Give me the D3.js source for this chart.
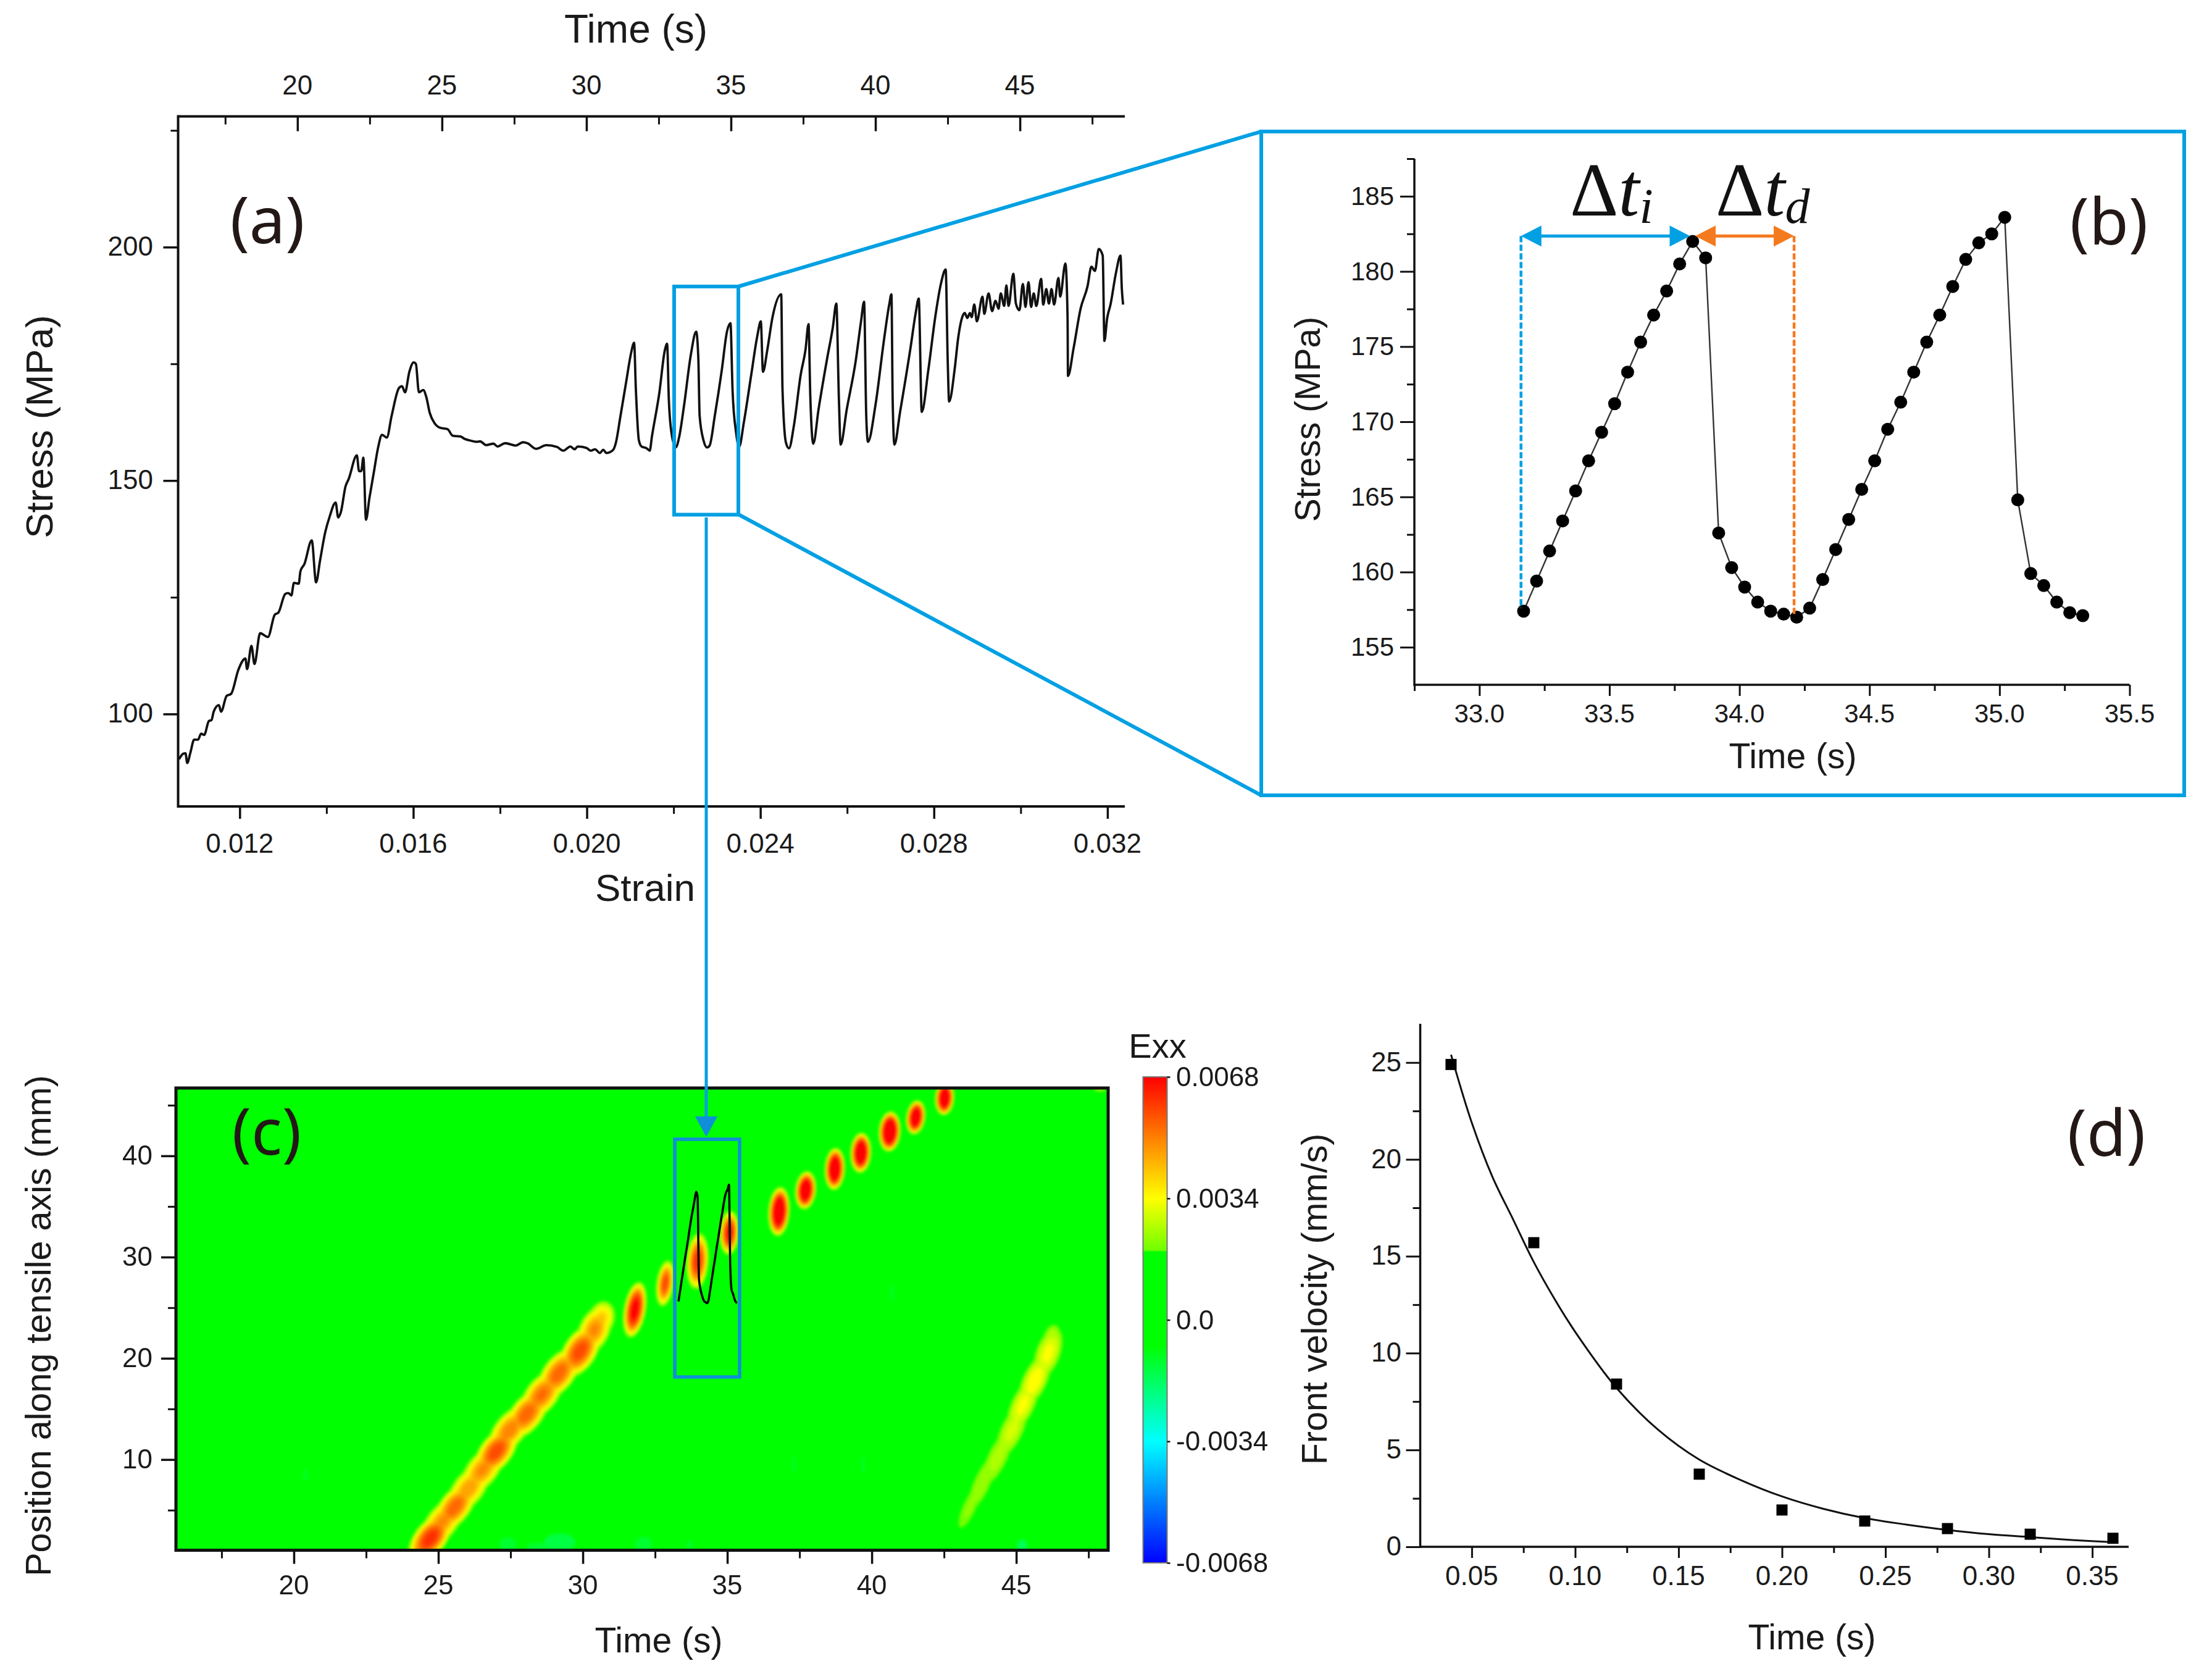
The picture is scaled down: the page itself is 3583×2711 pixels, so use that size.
<!DOCTYPE html>
<html>
<head>
<meta charset="utf-8">
<script src="https://cdn.jsdelivr.net/npm/d3@7"></script>
<style>
html,body{margin:0;padding:0;background:#fff;}
text{font-family:"Liberation Sans",Arial,sans-serif;fill:#1a1a1a;}
text.panel{font-family:"Noto Sans",sans-serif;font-weight:400;font-size:104px;fill:#231815;}
</style>
</head>
<body>
<svg id="screen" width="3583" height="2711" xmlns="http://www.w3.org/2000/svg"></svg>
<script>
// (a) stress-strain curve
var aStrain=[.01060,.01070,.01075,.01079,.01086,.01095,.01104,.01111,.01118,.01129,.01135,.01140,.01152,.01157,.01170,.01180,.01197,.01213,.01217,.01227,.01234,.01247,.01265,.01281,.01289,.01305,.01312,.01319,.01325,.01336,.01340,.01349,.01366,.01376,.01385,.01397,.01407,.01421,.01427,.01433,.01444,.01451,.01470,.01475,.01480,.01485,.01491,.01499,.01509,.01519,.01528,.01539,.01550,.01567,.01574,.01581,.01591,.01601,.01606,.01613,.01623,.01630,.01638,.01649,.01662,.01679,.01691,.01710,.01717,.01730,.01747,.01754,.01768,.01785,.01794,.01812,.01836,.01853,.01863,.01883,.01907,.01931,.01946,.01962,.01972,.01979,.01999,.02009,.02019,.02030,.02038,.02045,.02060,.02067,.02077,.02091,.02102,
.02109,.02113,.02120,.02126,.02138,.02145,.02150,.02167,.02180,.02185,.02189,.02195,.02205,.02213,.02224,.02240,.02252,.02257,.02260,.02269,.02277,.02283,.02295,.02311,.02323,.02331,.02336,.02344,.02351,.02362,.02379,.02393,.02401,.02406,.02416,.02428,.02448,.02451,.02459,.02466,.02477,.02493,.02504,.02511,.02515,.02522,.02534,.02554,.02567,.02575,.02581,.02585,.02599,.02620,.02632,.02639,.02644,.02648,.02665,.02685,.02697,.02702,.02705,.02709,.02722,.02746,.02758,.02765,.02772,.02787,.02803,.02816,.02827,.02832,.02835,.02848,.02856,.02866,.02871,.02877,.02883,.02887,.02893,.02899,.02912,.02916,.02926,.02934,.02942,.02949,.02954,.02962,.02967,.02972,.02983,.02989,.02997,.03005,.03011,.03018,.03024,.03030,.03036,.03047,.03052,.03059,.03065,.03071,.03077,.03087,.03091,.03103,.03108,.03109,.03122,.03138,.03154,.03163,.03171,.03180,.03189,.03193,.03199,.03207,.03220,.03230,.03233,.03236];
var aStress=[90.3,91.5,91.6,89.5,91.6,94.5,94.5,95.8,95.5,98.5,98.7,100.5,101.9,100.5,103.9,104.3,109.5,111.9,109.6,114.6,110.7,117.3,116.5,121.3,121.7,125.7,125.9,125.4,128.1,127.9,130.6,132.1,137.2,128.2,132.8,138.9,142.2,145.3,142.1,143.2,148.8,150.3,155.4,152.0,152.0,154.9,141.6,146.3,151.7,157.1,159.8,159.2,163.8,169.8,170.2,168.9,173.3,175.3,175.0,168.9,169.4,167.9,164.5,162.3,161.3,161.0,159.6,159.4,159.0,158.6,158.3,158.4,157.6,157.9,157.3,158.0,157.5,158.2,158.0,156.8,157.6,157.2,156.4,157.3,156.7,157.3,157.0,156.4,156.7,155.9,156.6,155.9,156.5,158.1,163.5,171.3,177.3,
179.5,169.6,158.6,157.3,156.9,156.4,159.4,168.7,178.0,179.3,167.4,160.3,157.1,159.4,166.0,177.1,181.9,176.2,163.9,158.6,157.1,157.5,163.9,173.6,181.9,183.7,169.1,160.3,157.2,162.5,172.7,181.0,184.1,173.3,178.0,185.0,189.9,169.6,158.1,156.9,161.6,172.7,178.0,183.5,168.3,157.9,165.2,176.2,182.8,187.9,167.4,157.7,165.2,175.8,184.1,188.3,163.9,158.3,166.0,180.2,187.7,189.9,166.9,157.7,164.7,178.4,185.9,189.0,164.7,173.6,185.0,192.1,195.2,174.9,166.9,174.0,180.6,185.2,185.9,184.8,185.9,185.0,187.7,184.1,189.4,185.7,190.1,186.3,188.5,186.8,190.1,187.4,191.8,187.4,194.3,187.9,186.5,192.1,187.2,192.5,187.2,190.1,187.4,193.2,187.7,191.0,187.9,191.0,187.7,193.4,189.4,196.5,185.0,172.4,178.4,186.8,191.6,195.8,194.9,199.6,198.2,179.9,184.6,187.7,194.7,198.2,191.2,187.7];
var aStrainTicks=[.012,.016,.020,.024,.028,.032];
var aTimeTicks=[20,25,30,35,40,45];
var aStressTicks=[100,150,200];

// (b) zoomed time series
var bTime=[33.17,33.22,33.27,33.32,33.37,33.42,33.47,33.52,33.57,33.62,33.67,33.72,33.77,33.82,33.87,33.92,33.97,34.02,34.07,34.12,34.17,34.22,34.27,34.32,34.37,34.42,34.47,34.52,34.57,34.62,34.67,34.72,34.77,34.82,34.87,34.92,34.97,35.02,35.07,35.12,35.17,35.22,35.27,35.32];
var bStress=[157.4,159.4,161.4,163.4,165.4,167.4,169.3,171.2,173.3,175.3,177.1,178.7,180.5,182.0,180.9,162.6,160.3,159.0,158.0,157.4,157.2,157.0,157.6,159.5,161.5,163.5,165.5,167.4,169.5,171.3,173.3,175.3,177.1,179.0,180.8,181.9,182.5,183.6,164.8,159.9,159.1,158.0,157.3,157.1];
var bTimeTicks=[33,33.5,34,34.5,35,35.5];
var bStressTicks=[155,160,165,170,175,180,185];

// (c) strain map, each blob
var cT=[31.8,32.85,33.97,35.07,36.79,37.71,38.72,39.62,40.62,41.52,42.52,
 24.72,25.13,25.57,26.04,26.53,27.0,27.47,28.06,28.58,29.17,29.9,30.4,30.64,
 43.38,43.82,44.35,44.85,45.23,45.64,46.1,46.22];
var cPos=[24.8,27.4,29.6,32.4,34.5,36.6,38.7,40.3,42.4,43.8,45.7,
 2.2,3.8,5.3,7.1,9.0,10.8,12.9,14.5,16.4,18.5,20.7,22.8,23.9,
 5.3,7.7,10.2,12.9,15.4,17.8,20.5,21.75];
var cHalfT=[.38,.3,.38,.33,.37,.36,.35,.36,.38,.33,.33,
 .56,.54,.54,.54,.54,.56,.54,.56,.56,.56,.58,.54,.46,
 .22,.28,.33,.38,.4,.42,.42,.3];
var cHalfPos=[2.8,2.3,2.8,2.2,2.45,1.9,2.1,2.0,2.0,1.7,1.7,
 2.9,2.9,2.9,2.9,2.9,2.9,2.9,2.9,2.9,2.9,2.9,2.5,1.8,
 2.2,2.8,2.8,2.8,2.8,2.8,2.6,1.6];
var cTilt=[10,8,4,3,4,6,3,3,4,8,4,
 38,38,38,38,38,38,38,38,38,36,32,24,18,
 24,24,25,25,25,25,20,12];
var cPeak=[.0075,.0062,.0066,.0072,.0090,.0088,.0090,.0090,.0095,.0088,.0090,
 .0066,.0052,.0058,.0050,.0052,.0062,.0054,.0058,.0056,.0058,.0062,.0052,.0044,
 .0024,.0026,.0028,.0032,.0036,.0038,.0036,.0030];
// faint spots near the bottom edge and scattered
var cSpotT=[27.4,28.4,29.2,32.1,33.7,45.2,47.9,37.3,39.7,20.4,40.7];
var cSpotPos=[1.6,1.3,1.8,1.6,1.5,1.5,46.6,9.5,9.5,8.5,26.5];
var cSpotHalfT=[.3,.35,.55,.3,.12,.18,.2,.06,.06,.08,.06];
var cSpotHalfPos=[.7,.5,.9,.8,.5,.6,.2,.9,.9,.6,.9];
var cSpotVal=[-.0012,-.0012,-.0014,-.0012,-.0011,-.0016,.0026,-.0011,-.0011,-.0011,-.0011];
var cTimeTicks=[20,25,30,35,40,45];
var cPosTicks=[10,20,30,40];
var cBarTicks=[.0068,.0034,0,-.0034,-.0068];
var cBarLabels=["0.0068","0.0034","0.0","-0.0034","-0.0068"];
var cBarStops=[-.0068,-.0034,-.0007,.0019,.00195,.0034,.0068];
var cBarColors=["#0000ff","#00ffff","#00ff00","#00ff00","#70ff00","#ffff00","#ff0000"];
var cLevels=[.002,.0023,.0026,.003,.0034,.0038,.0042,.0046,.005,.0054,.0058,.0062,.0068];

// (d) front velocity
var dTime=[.04,.08,.12,.16,.20,.24,.28,.32,.36];
var dVel=[24.9,15.7,8.4,3.75,1.9,1.33,.94,.65,.44];
var dFitTime=[.04,.05,.06,.07,.08,.09,.10,.12,.14,.16,.18,.20,.22,.24,.26,.28,.30,.32,.34,.36];
var dFitVel=[25.4,21.9,19.1,16.9,14.7,12.8,11.1,8.2,6.05,4.5,3.45,2.6,1.96,1.48,1.15,.87,.65,.5,.35,.24];
var dTimeTicks=[.05,.10,.15,.20,.25,.30,.35];
var dVelTicks=[0,5,10,15,20,25];

var BLUE="#00a0e3", BLUE2="#0f8fd8", ORANGE="#f47a1f";
var svg=d3.select("#screen");
var defs=svg.append("defs");
defs.append("filter").attr("id","soft").attr("x","-5%").attr("y","-5%").attr("width","110%").attr("height","110%")
 .append("feGaussianBlur").attr("stdDeviation",2.4);

function ticks(g,scale,vals,orient,len,w){
 var ax=(orient=="b"?d3.axisBottom:orient=="t"?d3.axisTop:d3.axisLeft)(scale).tickValues(vals).tickSize(len).tickFormat("");
 g.call(ax);
 g.selectAll("path").remove();
 g.selectAll("line").attr("stroke","#111").attr("stroke-width",w);
}
function label(x,y,t,size,anchor,rot){
 var n=svg.append("text").attr("font-size",size).attr("text-anchor",anchor||"middle").text(t);
 if(rot) n.attr("transform","translate("+x+","+y+") rotate(-90)");
 else n.attr("x",x).attr("y",y);
 return n;
}
function baseLine(x1,y1,x2,y2,w){
 svg.append("line").attr("x1",x1).attr("y1",y1).attr("x2",x2).attr("y2",y2).attr("stroke","#111").attr("stroke-width",w);
}

//---------- panel a
var ax0=288.5,ax1=1822,ay0=1306,ay1=188.5;
var axS=d3.scaleLinear().domain([.01058,.0324]).range([ax0,ax1]);
var axT=d3.scaleLinear().domain([15.87,48.63]).range([ax0,ax1]);
var ayS=d3.scaleLinear().domain([80.2,228]).range([ay0,ay1]);
ticks(svg.append("g").attr("transform","translate(0,"+ay0+")"),axS,aStrainTicks,"b",20,3.5);
ticks(svg.append("g").attr("transform","translate(0,"+ay0+")"),axS,[.014,.018,.022,.026,.030],"b",12,3);
ticks(svg.append("g").attr("transform","translate(0,"+(ay1+24)+")"),axT,aTimeTicks,"t",24,3.5);
ticks(svg.append("g").attr("transform","translate(0,"+(ay1+13)+")"),axT,[17.5,22.5,27.5,32.5,37.5,42.5,47.5],"t",13,3);
ticks(svg.append("g").attr("transform","translate("+ax0+",0)"),ayS,aStressTicks,"l",24,3.5);
ticks(svg.append("g").attr("transform","translate("+ax0+",0)"),ayS,[125,175,225],"l",12,3);
baseLine(ax0,ay0,ax1,ay0,4);baseLine(ax0,ay1,ax1,ay1,4);baseLine(ax0,ay0+2,ax0,ay1-2,4);
aStrainTicks.forEach(function(d){label(axS(d),1381,d.toFixed(3),44);});
aTimeTicks.forEach(function(d){label(axT(d),153,d,44);});
aStressTicks.forEach(function(d){label(248,ayS(d)+14,d,44,"end");});
label(1030,69,"Time (s)",64);
label(1045,1459,"Strain",62);
label(85,691,"Stress (MPa)",62,"middle",true);
svg.append("text").attr("class","panel").attr("x",433).attr("y",394).attr("text-anchor","middle").text("(a)");
var aLine=d3.line().x(function(d){return axS(d);}).y(function(d,i){return ayS(aStress[i]);}).curve(d3.curveMonotoneX);
svg.append("path").attr("d",aLine(aStrain)).attr("fill","none").attr("stroke","#111").attr("stroke-width",3.8).attr("stroke-linejoin","round");

// zoom box and connectors
svg.append("rect").attr("x",1092).attr("y",464).attr("width",104).attr("height",369.5).attr("fill","none").attr("stroke",BLUE).attr("stroke-width",6);
svg.append("line").attr("x1",1196).attr("y1",464).attr("x2",2043).attr("y2",213).attr("stroke",BLUE).attr("stroke-width",6);
svg.append("line").attr("x1",1196).attr("y1",833).attr("x2",2043).attr("y2",1288).attr("stroke",BLUE).attr("stroke-width",6);
svg.append("rect").attr("x",2043).attr("y",213).attr("width",1495).attr("height",1075).attr("fill","none").attr("stroke",BLUE).attr("stroke-width",6);

//---------- panel b
var bx0=2291,bx1=3449.5,by0=1109,by1=257;
var bxS=d3.scaleLinear().domain([32.75,35.5]).range([bx0,bx1]);
var byS=d3.scaleLinear().domain([152.5,187.5]).range([by0,by1]);
ticks(svg.append("g").attr("transform","translate(0,"+by0+")"),bxS,bTimeTicks,"b",18,3);
ticks(svg.append("g").attr("transform","translate(0,"+by0+")"),bxS,[32.75,33.25,33.75,34.25,34.75,35.25],"b",10,3);
ticks(svg.append("g").attr("transform","translate("+bx0+",0)"),byS,bStressTicks,"l",23,3);
ticks(svg.append("g").attr("transform","translate("+bx0+",0)"),byS,[157.5,162.5,167.5,172.5,177.5,182.5,187.5],"l",12,3);
baseLine(bx0,by0,bx1,by0,3.5);baseLine(bx0,by0+2,bx0,by1,3.5);
bTimeTicks.forEach(function(d){label(bxS(d),1170,d.toFixed(1),42);});
bStressTicks.forEach(function(d){label(2258,byS(d)+14,d,42,"end");});
label(2904,1244,"Time (s)",57);
label(2138,679,"Stress (MPa)",57,"middle",true);
svg.append("text").attr("class","panel").attr("x",3416).attr("y",396).attr("text-anchor","middle").text("(b)");
var bLine=d3.line().x(function(d){return bxS(d);}).y(function(d,i){return byS(bStress[i]);});
svg.append("path").attr("d",bLine(bTime)).attr("fill","none").attr("stroke","#333").attr("stroke-width",2.4);
svg.selectAll("circle.b").data(bTime).enter().append("circle").attr("class","b")
 .attr("cx",function(d){return bxS(d);}).attr("cy",function(d,i){return byS(bStress[i]);}).attr("r",10.5).attr("fill","#000");

// delta t markers
var mTi=33.16,mPeak=33.81,mPeak2=33.83,mTd=34.21,mLev=182.35;
function hArrow(t0,t1,col){
 var x0=bxS(t0),x1=bxS(t1),y=byS(mLev);
 svg.append("line").attr("x1",x0+25).attr("y1",y).attr("x2",x1-25).attr("y2",y).attr("stroke",col).attr("stroke-width",5);
 svg.append("path").attr("fill",col).attr("d",d3.line()([[x0,y],[x0+33,y-17],[x0+33,y+17]])+"Z");
 svg.append("path").attr("fill",col).attr("d",d3.line()([[x1,y],[x1-33,y-17],[x1-33,y+17]])+"Z");
}
svg.append("line").attr("x1",bxS(mTi)).attr("y1",byS(mLev)).attr("x2",bxS(mTi)).attr("y2",byS(157.6)).attr("stroke",BLUE).attr("stroke-width",4.5).attr("stroke-dasharray","10 4");
svg.append("line").attr("x1",bxS(mTd)).attr("y1",byS(mLev)).attr("x2",bxS(mTd)).attr("y2",byS(157.2)).attr("stroke",ORANGE).attr("stroke-width",4.5).attr("stroke-dasharray","10 4");
hArrow(mTi,mPeak,BLUE);hArrow(mPeak2,mTd,ORANGE);
function delta(x,y,sub,subSize){
 var serif='"Liberation Serif","Times New Roman","DejaVu Serif",serif';
 var t=svg.append("text").attr("x",x).attr("y",y).attr("font-size",122).style("font-family",serif).style("fill","#111");
 t.append("tspan").style("font-family",serif).text("\u0394");
 t.append("tspan").style("font-family",serif).style("font-style","italic").text("t");
 t.append("tspan").style("font-family",serif).style("font-style","italic").attr("font-size",subSize).attr("dy",12).text(sub);
}
delta(2543,349,"i",80);
delta(2779,349,"d",80);

//---------- panel c
var cx0=285,cx1=1795,cy0=2510.6,cy1=1762;
var cxS=d3.scaleLinear().domain([15.92,48.18]).range([cx0,cx1]);
var cyS=d3.scaleLinear().domain([1.04,46.7]).range([cy0,cy1]);
var heat=d3.scaleLinear().domain(cBarStops).range(cBarColors).clamp(true);
defs.append("clipPath").attr("id","cclip").append("rect").attr("x",cx0).attr("y",cy1).attr("width",cx1-cx0).attr("height",cy0-cy1);
svg.append("rect").attr("x",cx0).attr("y",cy1).attr("width",cx1-cx0).attr("height",cy0-cy1).attr("fill",heat(0));
var hg=svg.append("g").attr("clip-path","url(#cclip)").append("g").attr("filter","url(#soft)");
cSpotT.forEach(function(t,i){
 hg.append("ellipse").attr("cx",cxS(t)).attr("cy",cyS(cSpotPos[i]))
  .attr("rx",cxS(t+cSpotHalfT[i])-cxS(t)).attr("ry",cyS(cSpotPos[i])-cyS(cSpotPos[i]+cSpotHalfPos[i]))
  .attr("fill",heat(cSpotVal[i]));
});
cLevels.forEach(function(lev){
 cT.forEach(function(t,i){
  var p=cPeak[i];
  if(p<=lev) return;
  var f=Math.sqrt((p-lev)/(p-cLevels[0]));
  var x=cxS(t),y=cyS(cPos[i]);
  hg.append("ellipse").attr("cx",x).attr("cy",y)
   .attr("rx",(cxS(t+cHalfT[i])-x)*f).attr("ry",(y-cyS(cPos[i]+cHalfPos[i]))*f)
   .attr("transform","rotate("+cTilt[i]+" "+x+" "+y+")").attr("fill",heat(lev));
 });
});
ticks(svg.append("g").attr("transform","translate(0,"+cy0+")"),cxS,cTimeTicks,"b",22,3.5);
ticks(svg.append("g").attr("transform","translate(0,"+cy0+")"),cxS,[17.5,22.5,27.5,32.5,37.5,42.5,47.5],"b",13,3);
ticks(svg.append("g").attr("transform","translate("+cx0+",0)"),cyS,cPosTicks,"l",24,3.5);
ticks(svg.append("g").attr("transform","translate("+cx0+",0)"),cyS,[5,15,25,35,45],"l",13,3);
svg.append("rect").attr("x",cx0).attr("y",cy1).attr("width",cx1-cx0).attr("height",cy0-cy1).attr("fill","none").attr("stroke","#111").attr("stroke-width",5);
cTimeTicks.forEach(function(d){label(cxS(d),2582,d,44);});
cPosTicks.forEach(function(d){label(247,cyS(d)+14,d,44,"end");});
label(1067,2676,"Time (s)",57);
label(82,2147,"Position along tensile axis (mm)",57.5,"middle",true);
svg.append("text").attr("class","panel").attr("x",432).attr("y",1870).attr("text-anchor","middle").text("(c)");

// box with curve inset and arrow from panel a
svg.append("rect").attr("x",1093).attr("y",1845).attr("width",105).attr("height",385).attr("fill","none").attr("stroke",BLUE2).attr("stroke-width",5.5);
var inX=d3.scaleLinear().domain([33.17,35.32]).range([1099,1194]);
var inY=d3.scaleLinear().domain([157,183.6]).range([2110.5,1918.4]);
var inLine=d3.line().x(function(d){return inX(d);}).y(function(d,i){return inY(bStress[i]);}).curve(d3.curveMonotoneX);
svg.append("path").attr("d",inLine(bTime)).attr("fill","none").attr("stroke","#000").attr("stroke-width",3.5).attr("stroke-linejoin","round");
svg.append("line").attr("x1",1144).attr("y1",838).attr("x2",1144).attr("y2",1812).attr("stroke",BLUE).attr("stroke-width",5);
svg.append("path").attr("fill",BLUE2).attr("d",d3.line()([[1126,1808],[1162,1808],[1144,1841]])+"Z");

// colour bar
var barX=1851.5,barW=39,barTop=1744,barBot=2531;
var barY=d3.scaleLinear().domain([-.0068,.0068]).range([barBot,barTop]);
var grad=defs.append("linearGradient").attr("id","bar").attr("x1",0).attr("x2",0).attr("y1",1).attr("y2",0);
cBarStops.forEach(function(v,i){
 grad.append("stop").attr("offset",(v+.0068)/.0136).attr("stop-color",cBarColors[i]);
});
svg.append("rect").attr("x",barX).attr("y",barTop).attr("width",barW).attr("height",barBot-barTop).attr("fill","url(#bar)").attr("stroke","#777").attr("stroke-width",2);
ticks(svg.append("g").attr("transform","translate("+(barX+barW+5)+",0)"),barY,cBarTicks,"l",5,2.5);
cBarTicks.forEach(function(d,i){label(1905,barY(d)+15,cBarLabels[i],44,"start");});
label(1875,1713,"Exx",56);

//---------- panel d
var dx0=2300.5,dx1=3448,dy0=2505,dy1=1658;
var dxS=d3.scaleLinear().domain([.0251,.3676]).range([dx0,dx1]);
var dyS=d3.scaleLinear().domain([0,27]).range([dy0,dy1]);
ticks(svg.append("g").attr("transform","translate(0,"+dy0+")"),dxS,dTimeTicks,"b",18,3);
ticks(svg.append("g").attr("transform","translate(0,"+dy0+")"),dxS,[.075,.125,.175,.225,.275,.325],"b",10,3);
ticks(svg.append("g").attr("transform","translate("+dx0+",0)"),dyS,dVelTicks,"l",23,3);
ticks(svg.append("g").attr("transform","translate("+dx0+",0)"),dyS,[2.5,7.5,12.5,17.5,22.5],"l",12,3);
baseLine(dx0,dy0,dx1,dy0,3.5);baseLine(dx0,dy0+2,dx0,dy1,3.5);
dTimeTicks.forEach(function(d){label(dxS(d),2567,d.toFixed(2),44);});
dVelTicks.forEach(function(d){label(2270,dyS(d)+14,d,44,"end");});
label(2935,2671,"Time (s)",57);
label(2149,2104,"Front velocity (mm/s)",57.5,"middle",true);
svg.append("text").attr("class","panel").attr("x",3412).attr("y",1872).attr("text-anchor","middle").text("(d)");
var dLine=d3.line().x(function(d){return dxS(d);}).y(function(d,i){return dyS(dFitVel[i]);}).curve(d3.curveCatmullRom);
svg.append("path").attr("d",dLine(dFitTime)).attr("fill","none").attr("stroke","#111").attr("stroke-width",3);
svg.selectAll("rect.d").data(dTime).enter().append("rect").attr("class","d")
 .attr("x",function(d){return dxS(d)-9;}).attr("y",function(d,i){return dyS(dVel[i])-9;}).attr("width",18).attr("height",18).attr("fill","#000");
</script>
</body>
</html>
